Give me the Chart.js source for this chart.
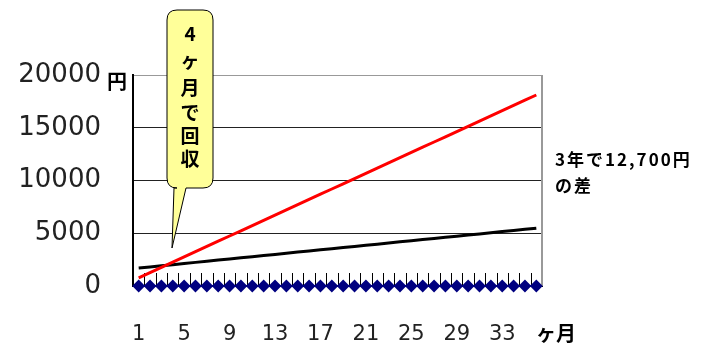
<!DOCTYPE html>
<html>
<head>
<meta charset="utf-8">
<script src="https://cdn.jsdelivr.net/npm/chart.js@4"></script>
<style>
  body { margin: 0; background: #fff; }
  canvas { display: block; }
</style>
</head>
<body>
<canvas id="chart1" width="704" height="347"></canvas>
<script>
// Chart Data
const months = ['1', '2', '3', '4', '5', '6', '7', '8', '9', '10', '11', '12',
    '13', '14', '15', '16', '17', '18', '19', '20', '21', '22', '23', '24',
    '25', '26', '27', '28', '29', '30', '31', '32', '33', '34', '35', '36'];
const redCost = [780, 1275, 1770, 2265, 2760, 3255, 3750, 4245, 4740, 5235, 5730, 6225,
    6720, 7215, 7710, 8205, 8700, 9195, 9690, 10185, 10680, 11175, 11670, 12165,
    12660, 13155, 13650, 14145, 14640, 15135, 15630, 16125, 16620, 17115, 17610, 18105];
const blackCost = [1700, 1808, 1916, 2024, 2132, 2240, 2348, 2456, 2564, 2672, 2780, 2888,
    2996, 3104, 3212, 3320, 3428, 3536, 3644, 3752, 3860, 3968, 4076, 4184,
    4292, 4400, 4508, 4616, 4724, 4832, 4940, 5048, 5156, 5264, 5372, 5480];
const baseLine = [0, 0, 0, 0, 0, 0, 0, 0, 0, 0, 0, 0,
    0, 0, 0, 0, 0, 0, 0, 0, 0, 0, 0, 0,
    0, 0, 0, 0, 0, 0, 0, 0, 0, 0, 0, 0];
const yTicks = [0, 5000, 10000, 15000, 20000];

const callout = ['4', 'ヶ', '月', 'で', '回', '収'];

// tick marks inside the plot, right border and the notes
const extras = {
    id: 'extras',
    beforeDatasetsDraw(chart) {
        const c = chart.ctx;
        const xs = chart.scales.x;
        const area = chart.chartArea;
        c.save();
        c.strokeStyle = '#000';
        c.lineWidth = 1;
        for (let i = 1; i < months.length; i++) {
            const x = Math.round((xs.getPixelForValue(i - 1) + xs.getPixelForValue(i)) / 2) + 0.5;
            c.beginPath();
            c.moveTo(x, area.bottom - 13);
            c.lineTo(x, area.bottom);
            c.stroke();
        }
        c.strokeStyle = '#999';
        c.lineWidth = 2;
        c.beginPath();
        c.moveTo(area.right, area.top);
        c.lineTo(area.right, area.bottom);
        c.stroke();
        c.restore();
    },
    afterDraw(chart) {
        const c = chart.ctx;
        c.save();
        c.fillStyle = '#000';
        c.textBaseline = 'middle';
        c.textAlign = 'left';
        c.font = "bold 20px 'Noto Sans CJK JP'";
        c.fillText('円', 107, 81);
        c.fillText('ヶ月', 536, 333);

        c.font = "bold 17px 'Noto Sans CJK JP'";
        c.letterSpacing = '2px';
        c.fillText('3年で12,700円', 555, 160);
        c.fillText('の差', 555, 186);
        c.letterSpacing = '0px';

        // speech bubble
        const l = 167, r = 213, t = 10, b = 188, rad = 10;
        c.beginPath();
        c.moveTo(l + rad, t);
        c.lineTo(r - rad, t);
        c.quadraticCurveTo(r, t, r, t + rad);
        c.lineTo(r, b - rad);
        c.quadraticCurveTo(r, b, r - rad, b);
        c.lineTo(186, b);
        c.lineTo(172, 248);
        c.lineTo(174, b);
        c.lineTo(l + rad, b);
        c.quadraticCurveTo(l, b, l, b - rad);
        c.lineTo(l, t + rad);
        c.quadraticCurveTo(l, t, l + rad, t);
        c.closePath();
        c.fillStyle = '#ffff99';
        c.fill();
        c.strokeStyle = '#000';
        c.lineWidth = 1;
        c.stroke();

        c.fillStyle = '#000';
        c.textAlign = 'center';
        c.font = "bold 19px 'Noto Sans CJK JP'";
        const ys = [34, 61, 88, 113, 136, 159];
        callout.forEach((ch, i) => c.fillText(ch, 190, ys[i]));
        c.restore();
    }
};

const ctx = document.getElementById('chart1').getContext('2d');
const chart1 = new Chart(ctx, {
    type: 'line',
    data: {
        labels: months,
        datasets: [
            {
                label: 'base',
                data: baseLine,
                borderColor: '#000080',
                backgroundColor: '#000080',
                borderWidth: 2,
                pointStyle: 'rectRot',
                pointRadius: 5,
                clip: false,
                order: 0,
            },
            {
                label: 'red',
                data: redCost,
                borderColor: '#ff0000',
                borderWidth: 3,
                pointRadius: 0,
                order: 1,
            },
            {
                label: 'black',
                data: blackCost,
                borderColor: '#000000',
                borderWidth: 3,
                pointRadius: 0,
                order: 2,
            }
        ],
    },
    options: {
        responsive: false,
        animation: false,
        devicePixelRatio: 1,
        layout: {
            padding: { left: 0, right: 162, top: 75, bottom: 0 },
        },
        plugins: {
            legend: { display: false },
            tooltip: { enabled: false },
        },
        scales: {
            x: {
                offset: true,
                grid: { drawOnChartArea: false, drawTicks: false },
                border: { color: '#000', width: 2 },
                ticks: {
                    autoSkip: false,
                    maxRotation: 0,
                    padding: 36,
                    color: '#222',
                    font: { family: 'DejaVu Sans', size: 21 },
                    callback: (v, i) => (i % 4 === 0 ? months[i] : ''),
                },
                afterFit: (s) => { s.height = 61; },
            },
            y: {
                min: 0,
                max: 20000,
                afterBuildTicks: (s) => { s.ticks = yTicks.map(v => ({ value: v })); },
                grid: {
                    drawTicks: false,
                    color: (c) => (c.tick && c.tick.value === 20000 ? '#999' : '#222'),
                    lineWidth: 1,
                },
                border: { color: '#000', width: 2 },
                ticks: {
                    padding: 32,
                    color: '#222',
                    font: { family: 'DejaVu Sans', size: 26 },
                    callback: (v) => String(v),
                },
                afterFit: (s) => { s.width = 133; },
            },
        },
    },
    plugins: [extras],
});
</script>
</body>
</html>
